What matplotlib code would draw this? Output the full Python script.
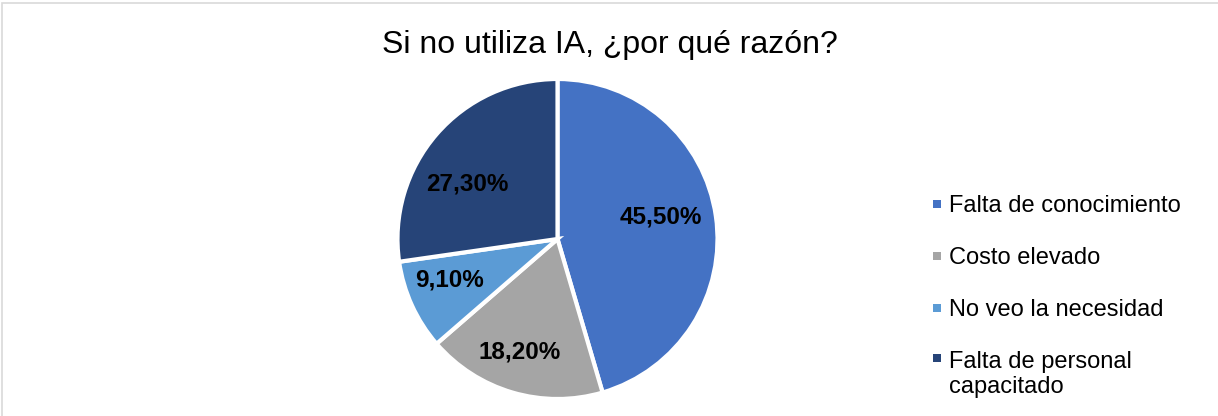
import numpy as np
import matplotlib.pyplot as plt
from matplotlib.patches import Rectangle

# Datos del gráfico
categorias = ['Falta de conocimiento', 'Costo elevado', 'No veo la necesidad',
              'Falta de personal\ncapacitado']
porcentajes = [45.5, 18.2, 9.1, 27.3]
etiquetas = ['45,50%', '18,20%', '9,10%', '27,30%']
colores = ['#4472C4', '#A5A5A5', '#5B9BD5', '#264478']
titulo = 'Si no utiliza IA, ¿por qué razón?'

plt.rcParams['font.family'] = ['Liberation Sans', 'DejaVu Sans']

W, H = 1218, 416
fig = plt.figure(figsize=(W / 100, H / 100), dpi=100)

# Borde gris del área del gráfico
fig.patches.append(Rectangle((1.5 / W, -0.05), 1.2, 1 - 2.5 / H + 0.05,
                             transform=fig.transFigure, fill=False,
                             edgecolor='#D9D9D9', linewidth=1.2))

# Ejes del pastel (centro ~ (557.5, 239), radio ~160 px)
lim = 1.01
ax = fig.add_axes([(557.5 - 160 * lim) / W, (H - 239 - 160 * lim) / H,
                   320 * lim / W, 320 * lim / H])
wedges, _ = ax.pie(porcentajes, colors=colores, startangle=90,
                   counterclock=False,
                   wedgeprops=dict(edgecolor='white', linewidth=3))
ax.set_xlim(-lim, lim)
ax.set_ylim(-lim, lim)

# Etiquetas de datos (posición tipo "ajuste óptimo" de Excel)
distancias = [0.66, 0.745, 0.72, 0.66]
desvios = [4, -2, -3.5, 9.5]  # grados
for w, txt, d, g in zip(wedges, etiquetas, distancias, desvios):
    ang = np.deg2rad((w.theta1 + w.theta2) / 2 + g)
    ax.text(d * np.cos(ang), d * np.sin(ang), txt, ha='center', va='center',
            fontsize=17.5, fontweight='bold', color='black')

fig.text(610 / W, 1 - 45 / H, titulo, ha='center', va='center',
         fontsize=23, color='#000000')

# Leyenda
y_base = [212, 264, 316, 366]
paso = 27
for c, lab, yb in zip(colores, categorias, y_base):
    n = lab.count('\n')
    fig.patches.append(Rectangle((933 / W, 1 - (yb - 4) / H), 8 / W, 8 / H,
                                 transform=fig.transFigure,
                                 facecolor=c, edgecolor='none'))
    fig.text(949 / W, 1 - (yb + n * paso) / H, lab, ha='left', va='baseline',
             fontsize=17, color='black', linespacing=1.2)

fig.savefig('out.png', dpi=100)
